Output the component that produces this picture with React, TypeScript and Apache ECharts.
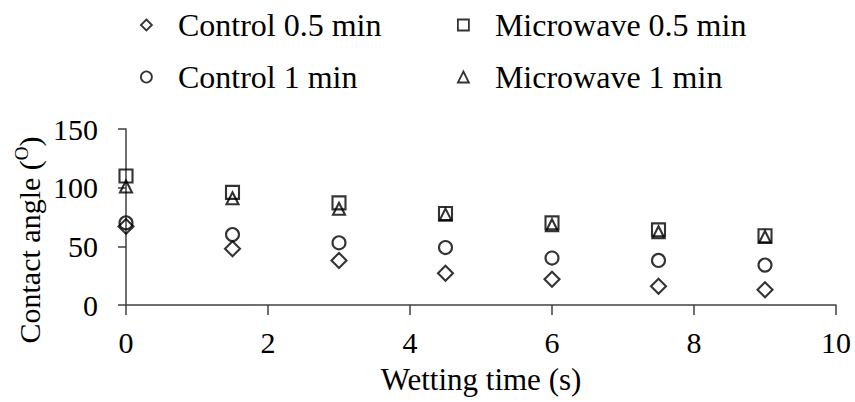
import React, { useEffect, useRef } from "react";
import * as echarts from "echarts";

// Wetting time (s)
const wettingTime = [0, 1.5, 3, 4.5, 6, 7.5, 9];

// Contact angle (degrees) for each treatment
const control05 = [67, 48, 38, 27, 22, 16, 13];
const control1 = [70, 60, 53, 49, 40, 38, 34];
const microwave05 = [110, 96, 87, 78, 70, 64, 59];
const microwave1 = [101, 91, 82, 77, 68, 62, 58];

const seriesNames = ["Control 0.5 min", "Control 1 min", "Microwave 0.5 min", "Microwave 1 min"];
const seriesSymbols = ["diamond", "circle", "rect", "triangle"];
const seriesSizes = [15, 13, 13, 12];
const seriesValues = [control05, control1, microwave05, microwave1];

const FONT = "Liberation Serif, Times New Roman, serif";
const AXIS_COLOR = "#404040";

export default function App() {
  const ref = useRef<HTMLDivElement>(null);

  useEffect(() => {
    if (!ref.current) return;
    const chart = echarts.init(ref.current, undefined, { renderer: "svg" });

    const series = seriesNames.map((name, i) => ({
      name,
      type: "scatter",
      symbol: seriesSymbols[i],
      symbolSize: seriesSizes[i],
      data: wettingTime.map((t, j) => [t, seriesValues[i][j]]),
      itemStyle: { color: "rgba(0,0,0,0)", borderColor: "#000", borderWidth: 2.1 },
      emphasis: { disabled: true },
    }));

    const legendText = {
      fontFamily: FONT,
      fontSize: 32,
      color: "#000",
      lineHeight: 34,
      padding: [0, 0, 0, 21],
    };

    const legendCommon = {
      orient: "vertical" as const,
      top: 8,
      padding: 0,
      itemGap: 18,
      itemWidth: 11,
      itemHeight: 11,
      selectedMode: false,
      textStyle: legendText,
      itemStyle: { color: "rgba(0,0,0,0)", borderColor: "#000", borderWidth: 1.8 },
    };

    chart.setOption({
      animation: false,
      backgroundColor: "#fff",
      textStyle: { fontFamily: FONT },
      grid: { left: 126, right: 19, top: 129, bottom: 97 },
      legend: [
        {
          ...legendCommon,
          left: 140,
          data: [
            { name: seriesNames[0], icon: "diamond" },
            { name: seriesNames[1], icon: "circle" },
          ],
        },
        {
          ...legendCommon,
          left: 457,
          data: [
            { name: seriesNames[2], icon: "rect" },
            { name: seriesNames[3], icon: "triangle" },
          ],
        },
      ],
      xAxis: {
        type: "value",
        min: 0,
        max: 10,
        interval: 2,
        name: "Wetting time (s)",
        nameLocation: "middle",
        nameGap: 59,
        nameTextStyle: { fontFamily: FONT, fontSize: 31, color: "#000" },
        axisLine: { show: true, lineStyle: { color: AXIS_COLOR, width: 1.5 } },
        axisTick: { show: true, length: 10, lineStyle: { color: AXIS_COLOR, width: 1.5 } },
        axisLabel: { fontFamily: FONT, fontSize: 30, color: "#000", margin: 22 },
        splitLine: { show: false },
      },
      yAxis: {
        type: "value",
        min: 0,
        max: 150,
        interval: 50,
        axisLine: { show: true, lineStyle: { color: AXIS_COLOR, width: 1.5 } },
        axisTick: { show: true, length: 8, lineStyle: { color: AXIS_COLOR, width: 1.5 } },
        axisLabel: { fontFamily: FONT, fontSize: 30, color: "#000", margin: 28 },
        splitLine: { show: false },
      },
      graphic: [
        {
          type: "text",
          x: 27,
          y: 240,
          rotation: Math.PI / 2,
          style: {
            text: "{m|Contact angle (}{s|O}{m|)}",
            align: "center",
            verticalAlign: "middle",
            fill: "#000",
            rich: {
              m: { fontFamily: FONT, fontSize: 30, lineHeight: 34, fill: "#000", verticalAlign: "bottom" },
              s: { fontFamily: FONT, fontSize: 19, lineHeight: 34, fill: "#000", verticalAlign: "top", padding: [2, 0, 0, 0] },
            },
          },
        },
      ],
      series,
    });

    return () => chart.dispose();
  }, []);

  return (
    <div
      ref={ref}
      style={{ position: "absolute", left: 0, top: 0, width: 855, height: 402 }}
    />
  );
}
